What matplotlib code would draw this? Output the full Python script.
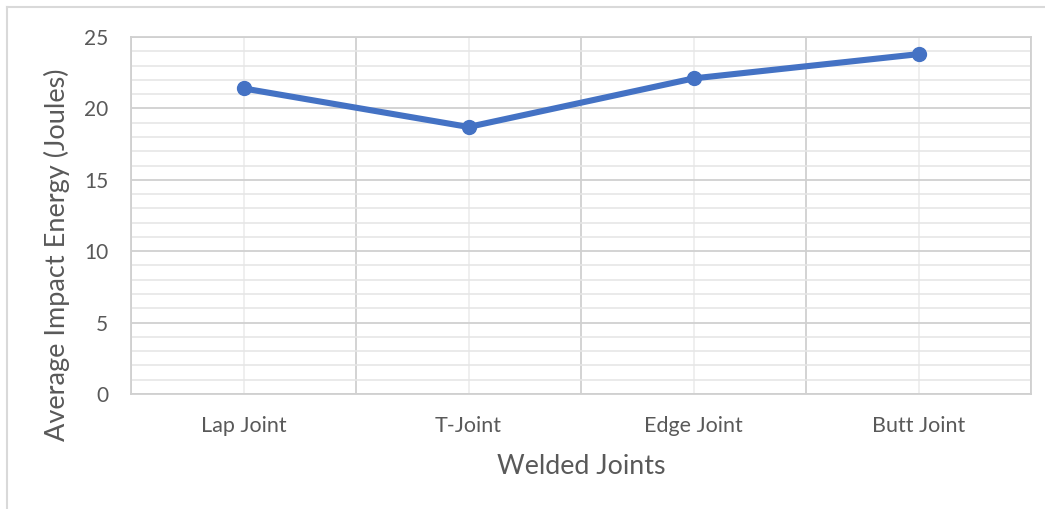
import numpy as np
import matplotlib.pyplot as plt
from matplotlib.ticker import MultipleLocator

# данные
joints = ['Lap Joint', 'T-Joint', 'Edge Joint', 'Butt Joint']
energy = [21.4, 18.7, 22.1, 23.8]

plt.rcParams['font.family'] = ['Lato', 'DejaVu Sans']

fig = plt.figure(figsize=(10.45, 5.09), dpi=100)
ax = fig.add_axes([0.1254, 0.2259, 0.8612, 0.7014])

x = np.arange(len(joints))
ax.plot(x, energy, color='#4472C4', lw=4.4, marker='o', ms=10,
        solid_capstyle='round', zorder=3)

ax.set_xlim(-0.5, len(joints) - 0.5)
ax.set_ylim(0, 25)

# сетка в стиле Excel
ax.yaxis.set_major_locator(MultipleLocator(5))
ax.yaxis.set_minor_locator(MultipleLocator(1))
ax.set_xticks(x)
ax.set_xticks(np.arange(-0.5, len(joints), 1), minor=True)
ax.grid(True, which='major', axis='y', color='#d0d0d0', lw=1.3)
ax.grid(True, which='minor', axis='y', color='#e6e6e6', lw=1.2)
ax.grid(True, which='minor', axis='x', color='#d0d0d0', lw=1.3)
ax.grid(True, which='major', axis='x', color='#ececec', lw=1.2)
ax.set_axisbelow(True)

for s in ax.spines.values():
    s.set_color('#d0d0d0')
    s.set_linewidth(1.3)

ax.tick_params(which='both', length=0)
ax.tick_params(axis='y', labelsize=15, labelcolor='#595959', pad=16.5)
ax.tick_params(axis='x', labelsize=15.5, labelcolor='#595959', pad=16)
ax.set_xticklabels(joints)

ax.set_xlabel('Welded Joints', fontsize=19.3, color='#595959', labelpad=13)
ax.set_ylabel('Average Impact Energy (Joules)', fontsize=19.5, color='#595959')
ax.yaxis.set_label_coords(-0.068, 0.389)

# рамка диаграммы
fig.add_artist(plt.Line2D([7/1045, 1], [1 - 7/509, 1 - 7/509], color='#d9d9d9', lw=1.5))
fig.add_artist(plt.Line2D([7/1045, 7/1045], [0, 1 - 7/509], color='#d9d9d9', lw=1.5))

fig.savefig('out.png', dpi=100)
